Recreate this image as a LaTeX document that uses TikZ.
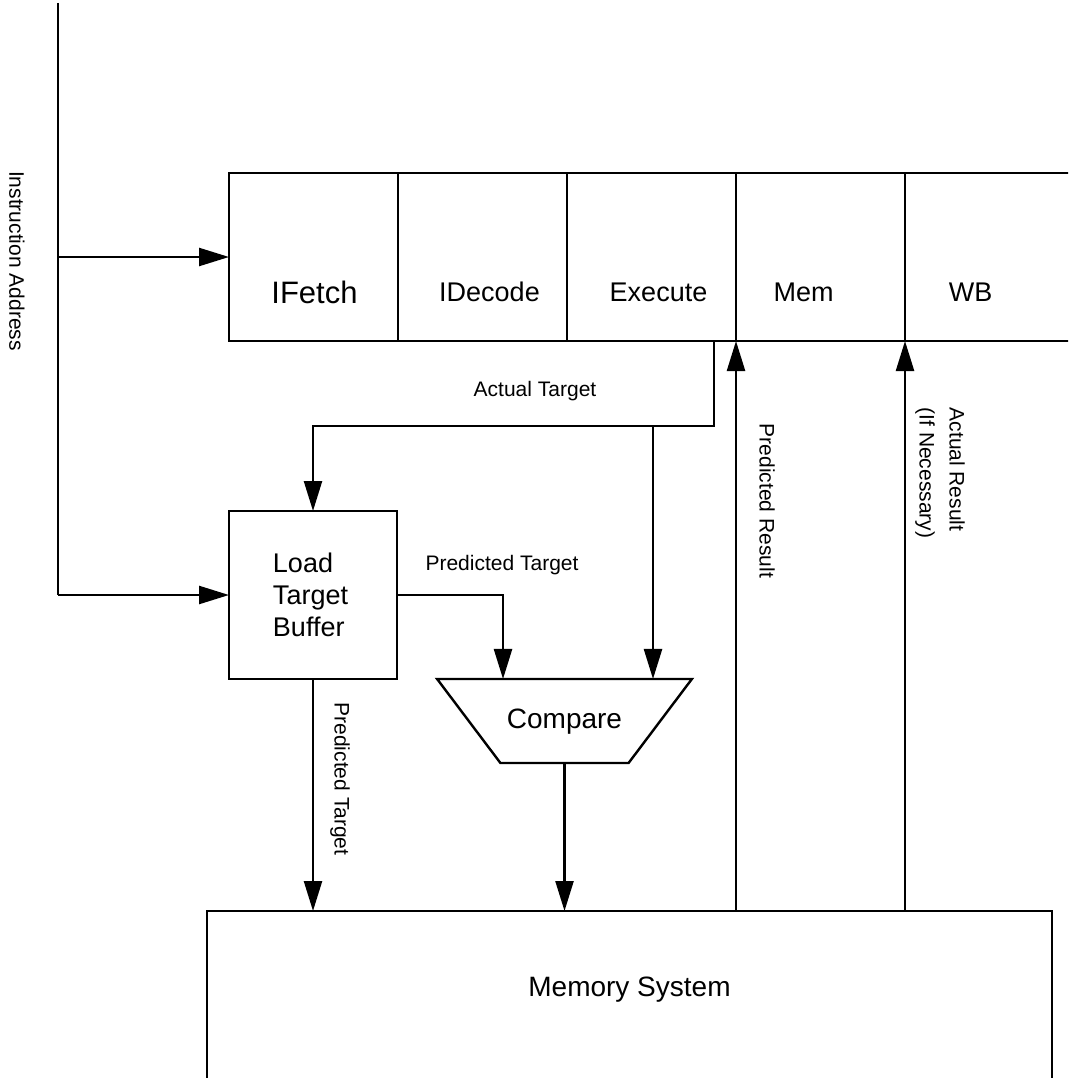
\documentclass[tikz,border=0pt]{standalone}
\usepackage{fontspec}
\setmainfont{Liberation Sans}
\usepackage{tikz}
\usetikzlibrary{positioning,shapes.geometric,arrows.meta}

\begin{document}
\begin{tikzpicture}[
			x=1pt, y=-1pt, line width=2.4pt,
			stage/.style={draw, rectangle, outer sep=0pt, inner sep=0pt, minimum width=169pt, minimum height=168pt},
			stagetxt/.style={font=\fontsize{27}{32}\selectfont, yshift=-35pt},
			lbl/.style={font=\fontsize{21}{30}\selectfont},
			arr/.style={-{Triangle[length=30pt,width=18pt]}}
			]
			\useasboundingbox (0,0) rectangle (1068,1078);
			\clip (0,0) rectangle (1068,1078);
			
			%==================== 流水线 ====================
			\node[stage, label={[stagetxt, font=\fontsize{31}{36}\selectfont, xshift=1pt]center:IFetch}] (ifetch) at (313.5,257) {};
			\node[stage, right=0pt of ifetch, label={[stagetxt, xshift=7pt]center:IDecode}] (idecode) {};
			\node[stage, right=0pt of idecode, label={[stagetxt, xshift=7pt]center:Execute}] (execute) {};
			\node[stage, right=0pt of execute, label={[stagetxt, xshift=-17pt]center:Mem}] (mem) {};
			\node[stage, right=0pt of mem, label={[stagetxt, xshift=-19pt]center:WB}] (wb) {};
			
			%==================== 取址 ====================
			\coordinate (iatop) at (58,3);
			\node[lbl, rotate=-90] (ialbl) at (17,261) {Instruction Address};
			
			\node[draw, rectangle, outer sep=0pt, minimum width=168pt, minimum height=168pt,
			align=left, font=\fontsize{27}{32}\selectfont] (ltb) at (313,595) {\hspace*{-5pt}Load\\\hspace*{-5pt}Target\\\hspace*{-5pt}Buffer};
			
			\draw (iatop) -- (iatop |- ltb.west);
			\draw[arr] (iatop |- ifetch.west) -- (ifetch.west);
			\draw[arr] (iatop |- ltb.west) -- (ltb.west);
			
			%==================== 比较 ====================
			\node[draw, trapezium, shape border rotate=180, trapezium angle=53,
			outer sep=0pt, inner xsep=6.5pt, text height=20pt, text depth=6pt, inner ysep=29pt,
			font=\fontsize{28}{33}\selectfont] (compare) at (564.5,721) {Compare};
			
			\coordinate (split) at (653,426);
			\draw[arr] ([xshift=62.5pt]execute.south) -- ++(0,85) -| (ltb.north);
			\draw[arr] (split) -- (split |- compare.north);
			\node[lbl] (atlbl) at (535,391) {Actual Target};
			
			\draw[arr] (ltb.east) -| ([xshift=-61.5pt]compare.north);
			\node[lbl] (ptlbl) at (502,565) {Predicted Target};
			
			%==================== 存储系统 ====================
			\node[draw, rectangle, outer sep=0pt, minimum width=845pt, minimum height=189pt,
			label={[font=\fontsize{28}{33}\selectfont, yshift=16pt]center:Memory System}] (memsys) at (629.5,1005.5) {};
			
			\draw[arr] (ltb.south) -- (ltb.south |- memsys.north);
			\node[lbl, rotate=-90] (pt2lbl) at (340,779) {Predicted Target};
			\draw[arr] (compare.south) -- (compare.south |- memsys.north);
			
			\draw[arr] (mem.south west |- memsys.north) -- (mem.south west);
			\node[lbl, rotate=-90] (prlbl) at (767,501) {Predicted Result};
			\draw[arr] (wb.south west |- memsys.north) -- (wb.south west);
			\node[lbl, rotate=-90, align=left] (arlbl) at (940,473) {Actual Result\\(If Necessary)};
			
		\end{tikzpicture}
\end{document}
